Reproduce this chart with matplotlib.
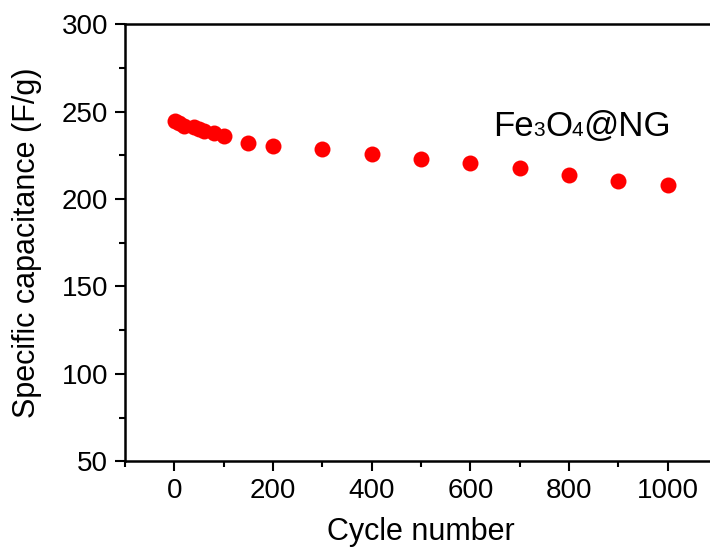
import matplotlib
matplotlib.use("Agg")
import matplotlib.pyplot as plt
from matplotlib.ticker import MultipleLocator
from matplotlib import transforms

plt.rcParams['font.family'] = ['Liberation Sans', 'DejaVu Sans']

cycles = [1, 10, 20, 40, 50, 60, 80, 100, 150, 200, 300, 400, 500, 600, 700, 800, 900, 1000]
capacitance = [244.6, 243.3, 241.7, 241.0, 240.2, 238.9, 237.5, 236.0, 232.2, 230.5,
               228.4, 225.5, 222.9, 220.6, 217.5, 213.9, 210.5, 208.0]
label_parts = [("Fe", 25), ("3", 15), ("O", 25), ("4", 15), ("@NG", 25)]

fig = plt.figure(figsize=(7.10, 5.48), dpi=100)
ax = fig.add_axes([0.176, 0.158, 0.834, 0.798])

ax.plot(cycles, capacitance, 'o', color='#FF0000', markersize=11.5, markeredgewidth=0)

ax.set_xlim(-100, 1100)
ax.set_ylim(50, 300)
ax.xaxis.set_major_locator(MultipleLocator(200))
ax.xaxis.set_minor_locator(MultipleLocator(100))
ax.yaxis.set_major_locator(MultipleLocator(50))
ax.yaxis.set_minor_locator(MultipleLocator(25))
ax.tick_params(which='major', direction='out', length=7, width=1.5, labelsize=20, pad=5)
ax.tick_params(which='minor', direction='out', length=4, width=1.5)
for s in ax.spines.values():
    s.set_linewidth(1.8)

ax.set_xlabel("Cycle number", fontsize=22, labelpad=9)
ax.set_ylabel("Specific capacitance (F/g)", fontsize=22, labelpad=14)

# Composite label with small inline digits
fig.canvas.draw()
renderer = fig.canvas.get_renderer()
x0, y0 = 0.694, 1 - 136 / 548  # figure fraction of start / baseline
base = fig.transFigure
offset = 0.0
for txt, fs in label_parts:
    tr = transforms.offset_copy(base, fig=fig, x=offset, y=0, units='dots')
    t = fig.text(x0, y0, txt, fontsize=fs, transform=tr, va='baseline', ha='left')
    bb = t.get_window_extent(renderer=renderer)
    offset += bb.width

fig.savefig("out.png", dpi=100)
